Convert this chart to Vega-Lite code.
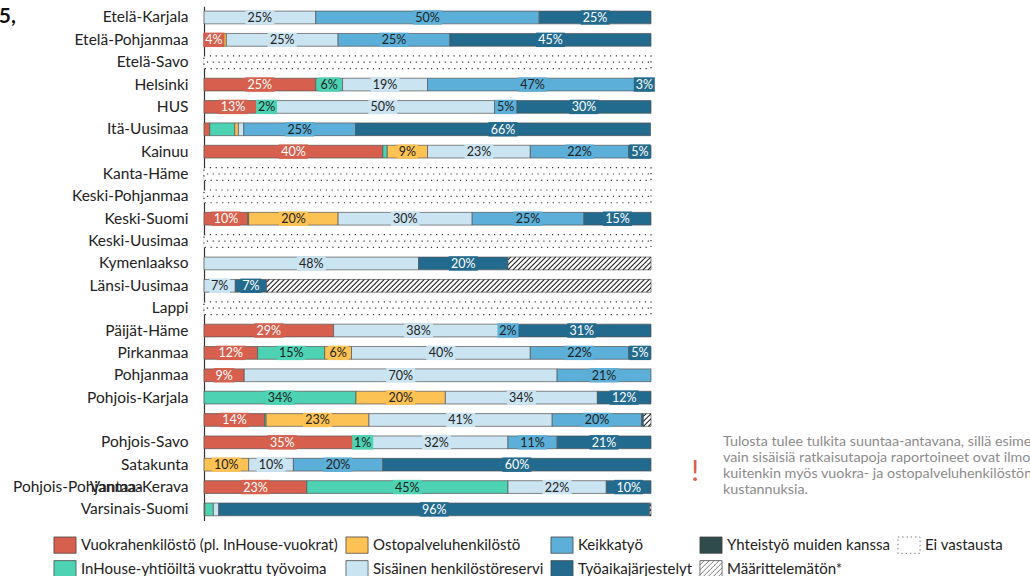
{
 "$schema": "https://vega.github.io/schema/vega-lite/v6.json",
 "width": 447,
 "height": 514.3,
 "autosize": {"type": "none"},
 "padding": {"left": 204, "top": 6.3, "right": 379, "bottom": 55.4},
 "background": "white",
 "config": {"view": {"stroke": null}, "font": "Lato"},
 "data": {"values": [
  {"region": "Etelä-Karjala", "category": "Sisäinen henkilöstöreservi", "value": 25, "label": "25%"},
  {"region": "Etelä-Karjala", "category": "Keikkatyö", "value": 50, "label": "50%"},
  {"region": "Etelä-Karjala", "category": "Työaikajärjestelyt", "value": 25, "label": "25%"},
  {"region": "Etelä-Pohjanmaa", "category": "Vuokrahenkilöstö (pl. InHouse-vuokrat)", "value": 4.4, "label": "4%"},
  {"region": "Etelä-Pohjanmaa", "category": "Ostopalveluhenkilöstö", "value": 0.6},
  {"region": "Etelä-Pohjanmaa", "category": "Sisäinen henkilöstöreservi", "value": 25, "label": "25%"},
  {"region": "Etelä-Pohjanmaa", "category": "Keikkatyö", "value": 25, "label": "25%"},
  {"region": "Etelä-Pohjanmaa", "category": "Työaikajärjestelyt", "value": 45, "label": "45%"},
  {"region": "Etelä-Savo", "category": "Ei vastausta", "value": 100},
  {"region": "Helsinki", "category": "Vuokrahenkilöstö (pl. InHouse-vuokrat)", "value": 25, "label": "25%"},
  {"region": "Helsinki", "category": "InHouse-yhtiöiltä vuokrattu työvoima", "value": 6, "label": "6%"},
  {"region": "Helsinki", "category": "Sisäinen henkilöstöreservi", "value": 19, "label": "19%"},
  {"region": "Helsinki", "category": "Keikkatyö", "value": 47, "label": "47%"},
  {"region": "Helsinki", "category": "Työaikajärjestelyt", "value": 3, "label": "3%"},
  {"region": "HUS", "category": "Vuokrahenkilöstö (pl. InHouse-vuokrat)", "value": 13, "label": "13%"},
  {"region": "HUS", "category": "InHouse-yhtiöiltä vuokrattu työvoima", "value": 2, "label": "2%"},
  {"region": "HUS", "category": "Sisäinen henkilöstöreservi", "value": 50, "label": "50%"},
  {"region": "HUS", "category": "Keikkatyö", "value": 5, "label": "5%"},
  {"region": "HUS", "category": "Työaikajärjestelyt", "value": 30, "label": "30%"},
  {"region": "Itä-Uusimaa", "category": "Vuokrahenkilöstö (pl. InHouse-vuokrat)", "value": 1.3},
  {"region": "Itä-Uusimaa", "category": "InHouse-yhtiöiltä vuokrattu työvoima", "value": 5.6},
  {"region": "Itä-Uusimaa", "category": "Ostopalveluhenkilöstö", "value": 0.8},
  {"region": "Itä-Uusimaa", "category": "Sisäinen henkilöstöreservi", "value": 1.2},
  {"region": "Itä-Uusimaa", "category": "Keikkatyö", "value": 25, "label": "25%"},
  {"region": "Itä-Uusimaa", "category": "Työaikajärjestelyt", "value": 66, "label": "66%"},
  {"region": "Kainuu", "category": "Vuokrahenkilöstö (pl. InHouse-vuokrat)", "value": 40, "label": "40%"},
  {"region": "Kainuu", "category": "InHouse-yhtiöiltä vuokrattu työvoima", "value": 1},
  {"region": "Kainuu", "category": "Ostopalveluhenkilöstö", "value": 9, "label": "9%"},
  {"region": "Kainuu", "category": "Sisäinen henkilöstöreservi", "value": 23, "label": "23%"},
  {"region": "Kainuu", "category": "Keikkatyö", "value": 22, "label": "22%"},
  {"region": "Kainuu", "category": "Työaikajärjestelyt", "value": 5, "label": "5%"},
  {"region": "Kanta-Häme", "category": "Ei vastausta", "value": 100},
  {"region": "Keski-Pohjanmaa", "category": "Ei vastausta", "value": 100},
  {"region": "Keski-Suomi", "category": "Vuokrahenkilöstö (pl. InHouse-vuokrat)", "value": 9.8, "label": "10%"},
  {"region": "Keski-Suomi", "category": "InHouse-yhtiöiltä vuokrattu työvoima", "value": 0.2},
  {"region": "Keski-Suomi", "category": "Ostopalveluhenkilöstö", "value": 20, "label": "20%"},
  {"region": "Keski-Suomi", "category": "Sisäinen henkilöstöreservi", "value": 30, "label": "30%"},
  {"region": "Keski-Suomi", "category": "Keikkatyö", "value": 25, "label": "25%"},
  {"region": "Keski-Suomi", "category": "Työaikajärjestelyt", "value": 15, "label": "15%"},
  {"region": "Keski-Uusimaa", "category": "Ei vastausta", "value": 100},
  {"region": "Kymenlaakso", "category": "Sisäinen henkilöstöreservi", "value": 48, "label": "48%"},
  {"region": "Kymenlaakso", "category": "Työaikajärjestelyt", "value": 20, "label": "20%"},
  {"region": "Kymenlaakso", "category": "Määrittelemätön*", "value": 32},
  {"region": "Länsi-Uusimaa", "category": "Sisäinen henkilöstöreservi", "value": 7, "label": "7%"},
  {"region": "Länsi-Uusimaa", "category": "Työaikajärjestelyt", "value": 7, "label": "7%"},
  {"region": "Länsi-Uusimaa", "category": "Määrittelemätön*", "value": 86},
  {"region": "Lappi", "category": "Ei vastausta", "value": 100},
  {"region": "Päijät-Häme", "category": "Vuokrahenkilöstö (pl. InHouse-vuokrat)", "value": 29, "label": "29%"},
  {"region": "Päijät-Häme", "category": "Sisäinen henkilöstöreservi", "value": 38, "label": "38%"},
  {"region": "Päijät-Häme", "category": "Keikkatyö", "value": 2, "label": "2%"},
  {"region": "Päijät-Häme", "category": "Työaikajärjestelyt", "value": 31, "label": "31%"},
  {"region": "Pirkanmaa", "category": "Vuokrahenkilöstö (pl. InHouse-vuokrat)", "value": 12, "label": "12%"},
  {"region": "Pirkanmaa", "category": "InHouse-yhtiöiltä vuokrattu työvoima", "value": 15, "label": "15%"},
  {"region": "Pirkanmaa", "category": "Ostopalveluhenkilöstö", "value": 6, "label": "6%"},
  {"region": "Pirkanmaa", "category": "Sisäinen henkilöstöreservi", "value": 40, "label": "40%"},
  {"region": "Pirkanmaa", "category": "Keikkatyö", "value": 22, "label": "22%"},
  {"region": "Pirkanmaa", "category": "Työaikajärjestelyt", "value": 5, "label": "5%"},
  {"region": "Pohjanmaa", "category": "Vuokrahenkilöstö (pl. InHouse-vuokrat)", "value": 9, "label": "9%"},
  {"region": "Pohjanmaa", "category": "Sisäinen henkilöstöreservi", "value": 70, "label": "70%"},
  {"region": "Pohjanmaa", "category": "Keikkatyö", "value": 21, "label": "21%"},
  {"region": "Pohjois-Karjala", "category": "InHouse-yhtiöiltä vuokrattu työvoima", "value": 34, "label": "34%"},
  {"region": "Pohjois-Karjala", "category": "Ostopalveluhenkilöstö", "value": 20, "label": "20%"},
  {"region": "Pohjois-Karjala", "category": "Sisäinen henkilöstöreservi", "value": 34, "label": "34%"},
  {"region": "Pohjois-Karjala", "category": "Työaikajärjestelyt", "value": 12, "label": "12%"},
  {"region": "Pohjois-Pohjanmaa", "category": "Vuokrahenkilöstö (pl. InHouse-vuokrat)", "value": 13.6, "label": "14%"},
  {"region": "Pohjois-Pohjanmaa", "category": "InHouse-yhtiöiltä vuokrattu työvoima", "value": 0.3},
  {"region": "Pohjois-Pohjanmaa", "category": "Ostopalveluhenkilöstö", "value": 23, "label": "23%"},
  {"region": "Pohjois-Pohjanmaa", "category": "Sisäinen henkilöstöreservi", "value": 41, "label": "41%"},
  {"region": "Pohjois-Pohjanmaa", "category": "Keikkatyö", "value": 20, "label": "20%"},
  {"region": "Pohjois-Pohjanmaa", "category": "Työaikajärjestelyt", "value": 0.4},
  {"region": "Pohjois-Pohjanmaa", "category": "Määrittelemätön*", "value": 1.7},
  {"region": "Pohjois-Savo", "category": "Vuokrahenkilöstö (pl. InHouse-vuokrat)", "value": 35, "label": "35%"},
  {"region": "Pohjois-Savo", "category": "InHouse-yhtiöiltä vuokrattu työvoima", "value": 1, "label": "1%"},
  {"region": "Pohjois-Savo", "category": "Sisäinen henkilöstöreservi", "value": 32, "label": "32%"},
  {"region": "Pohjois-Savo", "category": "Keikkatyö", "value": 11, "label": "11%"},
  {"region": "Pohjois-Savo", "category": "Työaikajärjestelyt", "value": 21, "label": "21%"},
  {"region": "Satakunta", "category": "Ostopalveluhenkilöstö", "value": 10, "label": "10%"},
  {"region": "Satakunta", "category": "Sisäinen henkilöstöreservi", "value": 10, "label": "10%"},
  {"region": "Satakunta", "category": "Keikkatyö", "value": 20, "label": "20%"},
  {"region": "Satakunta", "category": "Työaikajärjestelyt", "value": 60, "label": "60%"},
  {"region": "Vantaa-Kerava", "category": "Vuokrahenkilöstö (pl. InHouse-vuokrat)", "value": 23, "label": "23%"},
  {"region": "Vantaa-Kerava", "category": "InHouse-yhtiöiltä vuokrattu työvoima", "value": 45, "label": "45%"},
  {"region": "Vantaa-Kerava", "category": "Sisäinen henkilöstöreservi", "value": 22, "label": "22%"},
  {"region": "Vantaa-Kerava", "category": "Työaikajärjestelyt", "value": 10, "label": "10%"},
  {"region": "Varsinais-Suomi", "category": "Vuokrahenkilöstö (pl. InHouse-vuokrat)", "value": 0.2},
  {"region": "Varsinais-Suomi", "category": "InHouse-yhtiöiltä vuokrattu työvoima", "value": 1.9},
  {"region": "Varsinais-Suomi", "category": "Sisäinen henkilöstöreservi", "value": 1.2},
  {"region": "Varsinais-Suomi", "category": "Työaikajärjestelyt", "value": 96.4, "label": "96%"},
  {"region": "Varsinais-Suomi", "category": "Määrittelemätön*", "value": 0.3}
 ]},
 "transform": [
  {"calculate": "indexof(['Vuokrahenkilöstö (pl. InHouse-vuokrat)','InHouse-yhtiöiltä vuokrattu työvoima','Ostopalveluhenkilöstö','Sisäinen henkilöstöreservi','Keikkatyö','Työaikajärjestelyt','Yhteistyö muiden kanssa','Määrittelemätön*','Ei vastausta'], datum.category)", "as": "ord"},
  {"stack": "value", "groupby": ["region"], "sort": [{"field": "ord", "order": "ascending"}], "as": ["x0", "x1"]},
  {"calculate": "(datum.x0 + datum.x1) / 2", "as": "mid"}
 ],
 "encoding": {
  "y": {
   "field": "region", "type": "nominal",
   "scale": {"domain": ["Etelä-Karjala", "Etelä-Pohjanmaa", "Etelä-Savo", "Helsinki", "HUS", "Itä-Uusimaa", "Kainuu", "Kanta-Häme", "Keski-Pohjanmaa", "Keski-Suomi", "Keski-Uusimaa", "Kymenlaakso", "Länsi-Uusimaa", "Lappi", "Päijät-Häme", "Pirkanmaa", "Pohjanmaa", "Pohjois-Karjala", "Pohjois-Pohjanmaa", "Pohjois-Savo", "Satakunta", "Vantaa-Kerava", "Varsinais-Suomi"], "paddingInner": 0.43, "paddingOuter": 0.215},
   "axis": {
    "title": null, "ticks": false, "grid": false, "labelPadding": 16, "labelFont": "Lato", "labelFontSize": 15.5, "labelColor": "#222", "labelLimit": 300,
    "domainColor": "#333", "domainWidth": 1.2,
    "labelExpr": "datum.value === 'Pohjois-Pohjanmaa' ? '' : datum.label"
   }
  }
 },
 "layer": [
  {
   "transform": [{"filter": "datum.category !== 'Ei vastausta'"}],
   "mark": {"type": "bar", "stroke": "#555", "strokeWidth": 0.7},
   "encoding": {
    "x": {"field": "x0", "type": "quantitative", "scale": {"domain": [0, 100], "nice": false}, "axis": null},
    "x2": {"field": "x1"},
    "color": {
     "field": "category", "type": "nominal",
     "scale": {
      "domain": ["Vuokrahenkilöstö (pl. InHouse-vuokrat)", "Ostopalveluhenkilöstö", "Keikkatyö", "Yhteistyö muiden kanssa", "Ei vastausta", "InHouse-yhtiöiltä vuokrattu työvoima", "Sisäinen henkilöstöreservi", "Työaikajärjestelyt", "Määrittelemätön*"],
      "range": ["#D6604D", "#FDC254", "#5BAFD8", "#2F4B4C", "#ffffff", "#4DD3B3", "#CAE4F1", "#226B8F", "#ffffff"]
     },
     "legend": {
      "title": null, "orient": "none", "legendX": -149.5, "legendY": 528, "direction": "horizontal", "columns": 5,
      "columnPadding": 5, "rowPadding": 3, "labelFont": "Lato", "labelFontSize": 15, "labelColor": "#222", "labelLimit": 500, "labelOffset": 5.5,
      "symbolSize": 370, "symbolType": "M-1.15,-0.85H1.15V0.85H-1.15Z", "symbolStrokeColor": "#444", "symbolStrokeWidth": 0.8, "symbolOpacity": 1,
      "encode": {"symbols": {"update": {
       "shape": {"signal": "datum.value === 'Määrittelemätön*' ? 'M-1.15,-0.85H1.15V0.85H-1.15ZM-1.15,-0.41L-0.71,-0.85M-1.15,0.11L-0.19,-0.85M-1.15,0.63L0.33,-0.85M-0.85,0.85L0.85,-0.85M-0.33,0.85L1.15,-0.63M0.19,0.85L1.15,-0.11M0.71,0.85L1.15,0.41' : 'M-1.15,-0.85H1.15V0.85H-1.15Z'"},
       "strokeDash": {"signal": "datum.value === 'Ei vastausta' ? [1.3, 3] : [1, 0]"}
      }}}
     }
    }
   }
  },
  {
   "transform": [{"filter": "datum.category === 'Ei vastausta'"}],
   "mark": {"type": "bar", "fill": "#ffffff", "stroke": "#333", "strokeWidth": 1.2, "strokeDash": [1.2, 4.6]},
   "encoding": {
    "x": {"field": "x0", "type": "quantitative"},
    "x2": {"field": "x1"}
   }
  },
  {
   "transform": [{"filter": "datum.category === 'Ei vastausta'"}],
   "mark": {"type": "rule", "stroke": "#333", "strokeWidth": 1.2, "strokeDash": [1.2, 4.6], "strokeDashOffset": 2.9},
   "encoding": {
    "x": {"field": "x0", "type": "quantitative"},
    "x2": {"field": "x1"}
   }
  },
  {
   "transform": [{"filter": "datum.category === 'Määrittelemätön*'"}],
   "mark": {"type": "point", "clip": true, "filled": false, "stroke": "#222", "strokeWidth": 1.1, "opacity": 1, "size": 4,
    "shape": "M0,1.4L7.8,-6.4M0,-3.6L2.8,-6.4M0,6.4l12.8,-12.8m-7.8,12.8l12.8,-12.8m-7.8,12.8l12.8,-12.8m-7.8,12.8l12.8,-12.8m-7.8,12.8l12.8,-12.8m-7.8,12.8l12.8,-12.8m-7.8,12.8l12.8,-12.8m-7.8,12.8l12.8,-12.8m-7.8,12.8l12.8,-12.8m-7.8,12.8l12.8,-12.8m-7.8,12.8l12.8,-12.8m-7.8,12.8l12.8,-12.8m-7.8,12.8l12.8,-12.8m-7.8,12.8l12.8,-12.8m-7.8,12.8l12.8,-12.8m-7.8,12.8l12.8,-12.8m-7.8,12.8l12.8,-12.8m-7.8,12.8l12.8,-12.8m-7.8,12.8l12.8,-12.8m-7.8,12.8l12.8,-12.8m-7.8,12.8l12.8,-12.8m-7.8,12.8l12.8,-12.8m-7.8,12.8l12.8,-12.8m-7.8,12.8l12.8,-12.8m-7.8,12.8l12.8,-12.8m-7.8,12.8l12.8,-12.8m-7.8,12.8l12.8,-12.8m-7.8,12.8l12.8,-12.8m-7.8,12.8l12.8,-12.8m-7.8,12.8l12.8,-12.8m-7.8,12.8l12.8,-12.8m-7.8,12.8l12.8,-12.8m-7.8,12.8l12.8,-12.8m-7.8,12.8l12.8,-12.8m-7.8,12.8l12.8,-12.8m-7.8,12.8l12.8,-12.8m-7.8,12.8l12.8,-12.8m-7.8,12.8l12.8,-12.8m-7.8,12.8l12.8,-12.8m-7.8,12.8l12.8,-12.8m-7.8,12.8l12.8,-12.8m-7.8,12.8l12.8,-12.8m-7.8,12.8l12.8,-12.8m-7.8,12.8l12.8,-12.8m-7.8,12.8l12.8,-12.8m-7.8,12.8l12.8,-12.8m-7.8,12.8l12.8,-12.8m-7.8,12.8l12.8,-12.8m-7.8,12.8l12.8,-12.8m-7.8,12.8l12.8,-12.8m-7.8,12.8l12.8,-12.8m-7.8,12.8l12.8,-12.8m-7.8,12.8l12.8,-12.8m-7.8,12.8l12.8,-12.8m-7.8,12.8l12.8,-12.8m-7.8,12.8l12.8,-12.8m-7.8,12.8l12.8,-12.8m-7.8,12.8l12.8,-12.8m-7.8,12.8l12.8,-12.8m-7.8,12.8l12.8,-12.8m-7.8,12.8l12.8,-12.8m-7.8,12.8l12.8,-12.8m-7.8,12.8l12.8,-12.8m-7.8,12.8l12.8,-12.8m-7.8,12.8l12.8,-12.8m-7.8,12.8l12.8,-12.8m-7.8,12.8l12.8,-12.8m-7.8,12.8l12.8,-12.8m-7.8,12.8l12.8,-12.8m-7.8,12.8l12.8,-12.8m-7.8,12.8l12.8,-12.8m-7.8,12.8l12.8,-12.8m-7.8,12.8l12.8,-12.8m-7.8,12.8l12.8,-12.8m-7.8,12.8l12.8,-12.8m-7.8,12.8l12.8,-12.8m-7.8,12.8l12.8,-12.8m-7.8,12.8l12.8,-12.8m-7.8,12.8l12.8,-12.8m-7.8,12.8l12.8,-12.8m-7.8,12.8l12.8,-12.8"},
   "encoding": {
    "x": {"field": "x0", "type": "quantitative"}
   }
  },
  {
   "transform": [{"filter": "datum.label && length(datum.label) <= 2"}],
   "mark": {"type": "point", "filled": true, "opacity": 1, "strokeWidth": 0, "size": 4, "shape": "M-10.5,-7.2H10.5V7.2H-10.5Z"},
   "encoding": {
    "x": {"field": "mid", "type": "quantitative"},
    "fill": {
     "field": "category", "type": "nominal", "legend": null,
     "scale": {
      "domain": ["Vuokrahenkilöstö (pl. InHouse-vuokrat)", "Ostopalveluhenkilöstö", "Keikkatyö", "Yhteistyö muiden kanssa", "Ei vastausta", "InHouse-yhtiöiltä vuokrattu työvoima", "Sisäinen henkilöstöreservi", "Työaikajärjestelyt", "Määrittelemätön*"],
      "range": ["#D6604D", "#FDC254", "#5BAFD8", "#2F4B4C", "#ffffff", "#4DD3B3", "#CAE4F1", "#226B8F", "#ffffff"]
     }
    }
   }
  },
  {
   "transform": [{"filter": "datum.label && length(datum.label) > 2"}],
   "mark": {"type": "point", "filled": true, "opacity": 1, "strokeWidth": 0, "size": 4, "shape": "M-14.5,-7.2H14.5V7.2H-14.5Z"},
   "encoding": {
    "x": {"field": "mid", "type": "quantitative"},
    "fill": {"field": "category", "type": "nominal", "legend": null}
   }
  },
  {
   "transform": [{"filter": "datum.label"}],
   "mark": {"type": "text", "font": "Lato", "fontSize": 12.5, "align": "center", "baseline": "middle", "dy": 0.5},
   "encoding": {
    "x": {"field": "mid", "type": "quantitative"},
    "text": {"field": "label"},
    "fill": {"condition": {"test": "datum.category === 'Vuokrahenkilöstö (pl. InHouse-vuokrat)' || datum.category === 'Työaikajärjestelyt'", "value": "#ffffff"}, "value": "#222222"}
   }
  },
  {
   "data": {"values": [{"t": "Pohjois-Pohjanmaa"}]},
   "mark": {"type": "text", "font": "Lato", "fontSize": 15.5, "align": "left", "baseline": "middle", "fill": "#222"},
   "encoding": {
    "x": {"datum": -42.73, "type": "quantitative"},
    "y": {"datum": "Vantaa-Kerava", "type": "nominal"},
    "text": {"field": "t"}
   }
  },
  {
   "data": {"values": [{"t": "5,"}]},
   "mark": {"type": "text", "font": "Lato", "fontSize": 21, "fontWeight": "bold", "align": "left", "baseline": "middle", "fill": "#111"},
   "encoding": {
    "x": {"datum": -45.9, "type": "quantitative"},
    "y": {"datum": "Etelä-Karjala", "type": "nominal"},
    "text": {"field": "t"}
   }
  },
  {
   "data": {"values": [{"t": "!"}]},
   "mark": {"type": "text", "font": "Lato", "fontSize": 29, "fontWeight": "normal", "align": "center", "baseline": "middle", "fill": "#D6604D", "dy": 7},
   "encoding": {
    "x": {"datum": 109.9, "type": "quantitative"},
    "y": {"datum": "Satakunta", "type": "nominal"},
    "text": {"field": "t"}
   }
  },
  {
   "data": {"values": [{"t": "note"}]},
   "mark": {"type": "text", "font": "Lato", "fontSize": 14.3, "align": "left", "baseline": "top", "fill": "#8c8c8c", "dy": -6.9, "lineHeight": 15.7,
    "text": ["Tulosta tulee tulkita suuntaa-antavana, sillä esimerkiksi", "vain sisäisiä ratkaisutapoja raportoineet ovat ilmoittaneet", "kuitenkin myös vuokra- ja ostopalveluhenkilöstön", "kustannuksia."]},
   "encoding": {
    "x": {"datum": 116.1, "type": "quantitative"},
    "y": {"datum": "Pohjois-Savo", "type": "nominal"}
   }
  }
 ]
}
